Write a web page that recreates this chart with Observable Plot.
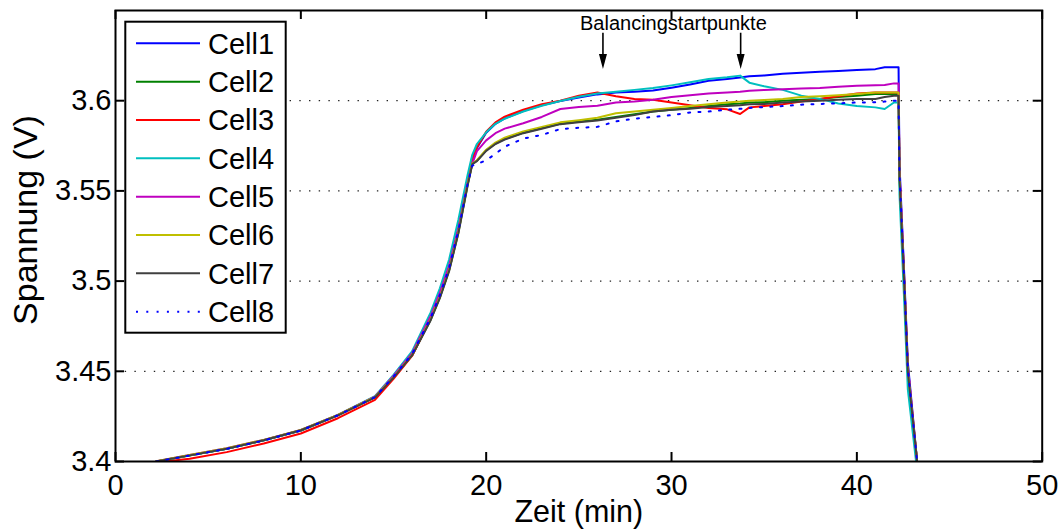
<!DOCTYPE html>
<html>
<head>
<meta charset="utf-8">
<script src="https://cdn.jsdelivr.net/npm/d3@7"></script>
<script src="https://cdn.jsdelivr.net/npm/@observablehq/plot@0.6"></script>
<style>
  body { margin: 0; background: #fff; }
  #wrap { position: relative; width: 1063px; height: 532px; font-family: "Liberation Sans", Arial, Helvetica, sans-serif; }
</style>
</head>
<body>
<div id="wrap"></div>
<script>
// ---------- data ----------
const cellNames = ["Cell1", "Cell2", "Cell3", "Cell4", "Cell5", "Cell6", "Cell7", "Cell8"];
const cellColors = ["#0000ff", "#008000", "#ff0000", "#00bfbf", "#bf00bf", "#bfbf00", "#404040", "#0000ff"];
const cellDashed = [false, false, false, false, false, false, false, true];

// time in minutes
const times = [2.2, 4, 6, 8, 10, 12, 14, 15, 16, 17, 17.5, 18, 18.5, 19, 19.25,
  19.5, 20, 20.5, 21, 22, 23, 24, 25, 26,
  27, 28, 29, 30, 31, 32, 33, 33.7, 34.2, 35, 36, 37, 38, 39, 40, 41, 41.5, 42, 42.25,
  42.3, 42.55, 42.75, 43.25];

// voltage (V)
const cell1 = [3.4000, 3.4034, 3.4071, 3.4118, 3.4172, 3.4257, 3.4358, 3.4472, 3.4598, 3.4800, 3.4930, 3.5082, 3.5295, 3.5560, 3.5690,
  3.5738, 3.5822, 3.5872, 3.5902, 3.5943, 3.5975, 3.5998, 3.6018, 3.6035,
  3.6045, 3.6050, 3.6056, 3.6072, 3.6090, 3.6110, 3.6120, 3.6128, 3.6135, 3.6140, 3.6150, 3.6155, 3.6160, 3.6165, 3.6170, 3.6175, 3.6185, 3.6185, 3.6185,
  3.5650, 3.5050, 3.4550, 3.4000];
const cell2 = [3.4000, 3.4033, 3.4070, 3.4117, 3.4172, 3.4256, 3.4355, 3.4465, 3.4588, 3.4785, 3.4910, 3.5060, 3.5270, 3.5535, 3.5650,
  3.5667, 3.5725, 3.5762, 3.5788, 3.5822, 3.5848, 3.5872, 3.5884, 3.5895,
  3.5910, 3.5925, 3.5940, 3.5950, 3.5960, 3.5970, 3.5980, 3.5985, 3.5990, 3.5992, 3.6000, 3.6005, 3.6010, 3.6020, 3.6028, 3.6037, 3.6037, 3.6037, 3.6037,
  3.5580, 3.5000, 3.4500, 3.4000];
const cell3 = [3.3995, 3.4015, 3.4052, 3.4100, 3.4155, 3.4240, 3.4342, 3.4458, 3.4585, 3.4790, 3.4920, 3.5072, 3.5285, 3.5552, 3.5670,
  3.5742, 3.5828, 3.5880, 3.5912, 3.5950, 3.5980, 3.6000, 3.6028, 3.6046,
  3.6025, 3.6010, 3.6005, 3.5990, 3.5975, 3.5960, 3.5952, 3.5926, 3.5963, 3.5970, 3.5980, 3.5995, 3.6010, 3.6025, 3.6040, 3.6046, 3.6046, 3.6046, 3.6046,
  3.5600, 3.5020, 3.4520, 3.4000];
const cell4 = [3.4000, 3.4034, 3.4071, 3.4118, 3.4173, 3.4258, 3.4362, 3.4480, 3.4610, 3.4825, 3.4960, 3.5120, 3.5340, 3.5590, 3.5700,
  3.5760, 3.5825, 3.5872, 3.5900, 3.5940, 3.5972, 3.5998, 3.6022, 3.6040,
  3.6050, 3.6060, 3.6070, 3.6085, 3.6102, 3.6120, 3.6130, 3.6139, 3.6100, 3.6080, 3.6060, 3.6028, 3.6010, 3.5985, 3.5970, 3.5963, 3.5954, 3.5990, 3.5990,
  3.5480, 3.4900, 3.4400, 3.3950];
const cell5 = [3.4002, 3.4036, 3.4073, 3.4120, 3.4175, 3.4258, 3.4360, 3.4474, 3.4600, 3.4805, 3.4935, 3.5085, 3.5290, 3.5545, 3.5650,
  3.5720, 3.5780, 3.5820, 3.5845, 3.5875, 3.5910, 3.5954, 3.5965, 3.5972,
  3.5990, 3.5995, 3.6005, 3.6020, 3.6030, 3.6040, 3.6046, 3.6050, 3.6055, 3.6060, 3.6063, 3.6067, 3.6070, 3.6078, 3.6083, 3.6085, 3.6087, 3.6096, 3.6096,
  3.5620, 3.5030, 3.4530, 3.4000];
const cell6 = [3.4001, 3.4036, 3.4073, 3.4120, 3.4175, 3.4258, 3.4358, 3.4468, 3.4590, 3.4788, 3.4912, 3.5062, 3.5272, 3.5538, 3.5652,
  3.5670, 3.5728, 3.5768, 3.5795, 3.5830, 3.5855, 3.5880, 3.5892, 3.5905,
  3.5930, 3.5940, 3.5950, 3.5960, 3.5970, 3.5980, 3.5990, 3.5995, 3.6000, 3.6004, 3.6010, 3.6020, 3.6025, 3.6030, 3.6037, 3.6046, 3.6046, 3.6046, 3.6046,
  3.5590, 3.5010, 3.4510, 3.4000];
const cell7 = [3.4000, 3.4034, 3.4071, 3.4118, 3.4173, 3.4256, 3.4355, 3.4465, 3.4588, 3.4782, 3.4905, 3.5055, 3.5265, 3.5530, 3.5648,
  3.5665, 3.5722, 3.5760, 3.5785, 3.5820, 3.5845, 3.5870, 3.5880, 3.5890,
  3.5905, 3.5920, 3.5940, 3.5950, 3.5955, 3.5965, 3.5970, 3.5975, 3.5980, 3.5982, 3.5990, 3.5995, 3.6000, 3.6005, 3.6009, 3.6009, 3.6020, 3.6028, 3.6028,
  3.5570, 3.5000, 3.4500, 3.4000];
const cell8 = [3.4000, 3.4033, 3.4070, 3.4117, 3.4172, 3.4256, 3.4357, 3.4470, 3.4595, 3.4795, 3.4922, 3.5072, 3.5280, 3.5540, 3.5640,
  3.5648, 3.5670, 3.5705, 3.5745, 3.5790, 3.5810, 3.5843, 3.5850, 3.5855,
  3.5885, 3.5900, 3.5910, 3.5920, 3.5935, 3.5940, 3.5950, 3.5955, 3.5960, 3.5965, 3.5970, 3.5978, 3.5982, 3.5985, 3.5990, 3.5991, 3.5995, 3.6000, 3.6000,
  3.5600, 3.5020, 3.4520, 3.4000];

const xTicks = [0, 10, 20, 30, 40, 50];
const xTickLabels = ["0", "10", "20", "30", "40", "50"];
const yTicks = [3.4, 3.45, 3.5, 3.55, 3.6];
const yTickLabels = ["3.4", "3.45", "3.5", "3.55", "3.6"];
const gridY = [3.45, 3.5, 3.55, 3.6];
const xLabel = "Zeit (min)";
const yLabel = "Spannung (V)";

const annotationText = "Balancingstartpunkte";
const annotationX = 30.1;
const annotationY = 3.6425;
const arrowXs = [26.3, 33.73];
const arrowTop = 3.6374;
const arrowTip = 3.6176;

// ---------- layout ----------
const W = 1063, H = 532;
const mL = 115, mR = 21.3, mT = 10, mB = 71;
const xDomain = [0, 50], yDomain = [3.4, 3.65];
const FONT = "'Liberation Sans', Arial, Helvetica, sans-serif";

const allCells = [cell1, cell2, cell3, cell4, cell5, cell6, cell7, cell8];
const rows = allCells.map((vals, i) => times.map((t, j) => ({t, v: vals[j], cell: cellNames[i]})));

// convert pixel lengths into data units for inward ticks
const pxX = (xDomain[1] - xDomain[0]) / (W - mL - mR);
const pxY = (yDomain[1] - yDomain[0]) / (H - mT - mB);
const tickLen = 9;

const marks = [];
// grid
marks.push(Plot.ruleY(gridY, {y: d => d, stroke: "#222", strokeWidth: 1.3, strokeDasharray: "1.4,8.3"}));
// lines
rows.forEach((r, i) => {
  marks.push(Plot.line(r, {
    x: "t", y: "v", stroke: cellColors[i], strokeWidth: 2, clip: true,
    strokeDasharray: cellDashed[i] ? "2,8.3" : null
  }));
});
// frame
marks.push(Plot.frame({stroke: "#000", strokeWidth: 2}));
// inward ticks
marks.push(Plot.ruleX(xTicks, {x: d => d, y1: yDomain[0], y2: yDomain[0] + tickLen * pxY, stroke: "#000", strokeWidth: 2}));
marks.push(Plot.ruleX(xTicks, {x: d => d, y1: yDomain[1], y2: yDomain[1] - tickLen * pxY, stroke: "#000", strokeWidth: 2}));
marks.push(Plot.ruleY(yTicks, {y: d => d, x1: xDomain[0], x2: xDomain[0] + tickLen * pxX, stroke: "#000", strokeWidth: 2}));
marks.push(Plot.ruleY(yTicks, {y: d => d, x1: xDomain[1], x2: xDomain[1] - tickLen * pxX, stroke: "#000", strokeWidth: 2}));
// tick labels
marks.push(Plot.axisX(xTicks, {tickSize: 0, tickPadding: 13, fontSize: 29, tickFormat: d => xTickLabels[xTicks.indexOf(d)], label: null, fill: "#000"}));
marks.push(Plot.axisY(yTicks, {tickSize: 0, tickPadding: 4, fontSize: 29, tickFormat: d => yTickLabels[yTicks.indexOf(d)], label: null, fill: "#000"}));
// axis titles
marks.push(Plot.text([xLabel], {frameAnchor: "bottom", textAnchor: "middle", dy: 60, fontSize: 30.5, fill: "#000", text: d => d}));
marks.push(Plot.text([yLabel], {frameAnchor: "left", textAnchor: "middle", dx: -89, dy: -16, rotate: -90, fontSize: 34, fill: "#000", text: d => d}));
// annotation
marks.push(Plot.text([annotationText], {x: annotationX, y: annotationY, fontSize: 20, fill: "#000", text: d => d}));
marks.push(Plot.ruleX(arrowXs, {x: d => d, y1: arrowTop, y2: arrowTip + 8 * pxY, stroke: "#000", strokeWidth: 1.6}));
marks.push(Plot.vector(arrowXs, {x: d => d, y: arrowTip, length: 15, rotate: 180, anchor: "end", shape: "spike", r: 4, fill: "#000", stroke: "none"}));

const chart = Plot.plot({
  width: W, height: H,
  marginLeft: mL, marginRight: mR, marginTop: mT, marginBottom: mB,
  x: {domain: xDomain},
  y: {domain: yDomain},
  style: {fontFamily: FONT, background: "#fff", color: "#000"},
  marks
});
document.getElementById("wrap").appendChild(chart);

// ---------- legend (boxed, top-left inside axes) ----------
const leg = d3.select("#wrap").append("svg")
  .attr("width", 166).attr("height", 316)
  .style("position", "absolute").style("left", "123px").style("top", "20px")
  .style("font-family", FONT);
leg.append("rect").attr("x", 2.3).attr("y", 1.7).attr("width", 160.4).attr("height", 311)
  .attr("fill", "#fff").attr("stroke", "#000").attr("stroke-width", 2);
cellNames.forEach((name, i) => {
  const cy = 23.3 + i * 38.34;
  leg.append("line").attr("x1", 13).attr("x2", 77).attr("y1", cy).attr("y2", cy)
    .attr("stroke", cellColors[i]).attr("stroke-width", 2)
    .attr("stroke-dasharray", cellDashed[i] ? "2,8.3" : null);
  leg.append("text").attr("x", 85).attr("y", cy).attr("dy", "0.36em")
    .attr("font-size", 29).attr("fill", "#000").text(name);
});
</script>
</body>
</html>
